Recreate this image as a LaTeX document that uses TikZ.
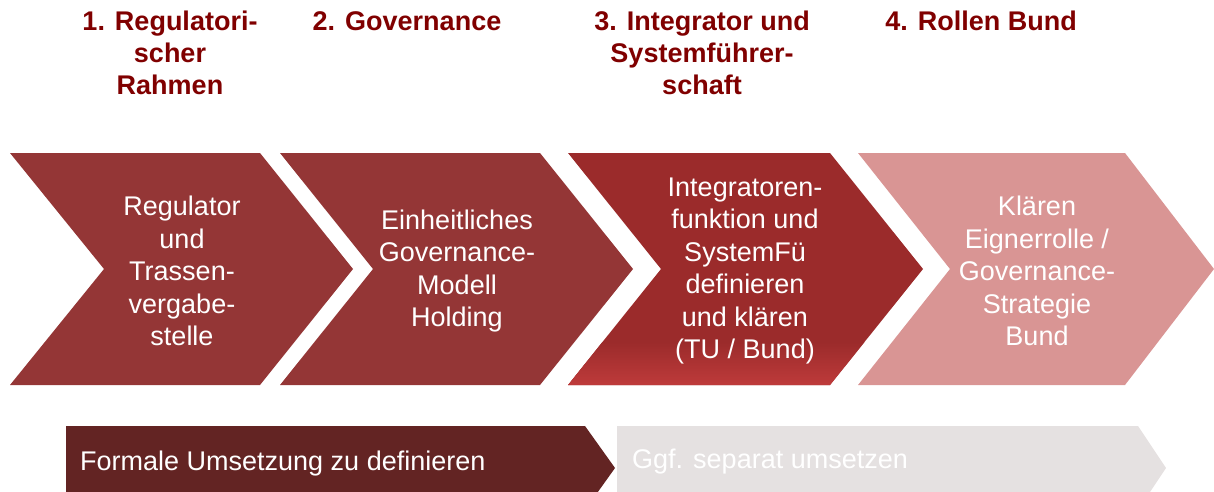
\documentclass[tikz,border=0pt]{standalone}
\usepackage{fontspec}
\setmainfont{Liberation Sans}
\usepackage{tikz}
\usetikzlibrary{positioning, calc}
\definecolor{titelrot}{HTML}{800000}
\definecolor{pfeilA}{HTML}{943636}
\definecolor{pfeilC}{HTML}{9B2B2B}
\definecolor{pfeilCunten}{HTML}{BF3B3B}
\definecolor{pfeilD}{HTML}{D99594}
\definecolor{dunkel}{HTML}{632423}
\definecolor{hellgrau}{HTML}{E5E1E1}

\begin{document}
\begin{tikzpicture}[x=1pt,y=-1pt,
    titel/.style={text=titelrot, font=\bfseries\fontsize{27}{32}\selectfont, align=center, inner sep=0pt, anchor=north},
    inhalt/.style={text=white, font=\fontsize{27}{32.5}\selectfont, align=center, inner sep=0pt}]
    \useasboundingbox (0,0) rectangle (1214,492);
    \clip (0,0) rectangle (1214,492);

    % Titel
    \node [titel] (t1) at (170,11) {1. Regulatori-\\scher\\Rahmen};
    \node [titel] (t2) at (407,11) {2. Governance};
    \node [titel] (t3) at (702,11) {3. Integrator und\\Systemführer-\\schaft};
    \node [titel] (t4) at (981,11) {4. Rollen Bund};

    % Pfeile
    \fill [pfeilA] (10,153) -- (260,153) -- (353,269) -- (260,385) -- (10,385) -- (104,269) -- cycle;
    \fill [pfeilA] (280,153) -- (540,153) -- (633,269) -- (540,385) -- (280,385) -- (373,269) -- cycle;
    \begin{scope}
        \clip (568,153) -- (830,153) -- (923,269) -- (830,385) -- (568,385) -- (661,269) -- cycle;
        \fill [pfeilC] (560,150) rectangle (930,390);
        \shade [top color=pfeilC, bottom color=pfeilCunten] (560,342) rectangle (930,386);
    \end{scope}
    \fill [pfeilD] (858,153) -- (1125,153) -- (1214,269) -- (1125,385) -- (858,385) -- (950,269) -- cycle;

    \node [inhalt] (regulator) at (182,271) {Regulator\\und\\Trassen-\\vergabe-\\stelle};
    \node [inhalt] (governance) at (457,271) {Einheitliches\\Governance-\\Modell\\Holding};
    \node [inhalt] (integrator) at (745,271) {Integratoren-\\funktion und\\SystemFü\\definieren\\und klären\\(TU / Bund)};
    \node [inhalt] (eigner) at (1037,271) {Klären\\Eignerrolle /\\Governance-\\Strategie\\Bund};

    % Umsetzung
    \fill [dunkel] (66,426) -- (585,426) -- (615,468) -- (585,510) -- (66,510) -- cycle;
    \fill [hellgrau] (617,426) -- (1138,426) -- (1166,468) -- (1138,510) -- (617,510) -- cycle;
    \node [inhalt, anchor=west] (formal) at (80,464) {Formale Umsetzung zu definieren};
    \node [inhalt, anchor=west] (separat) at (632,462) {Ggf. separat umsetzen};
\end{tikzpicture}
\end{document}
